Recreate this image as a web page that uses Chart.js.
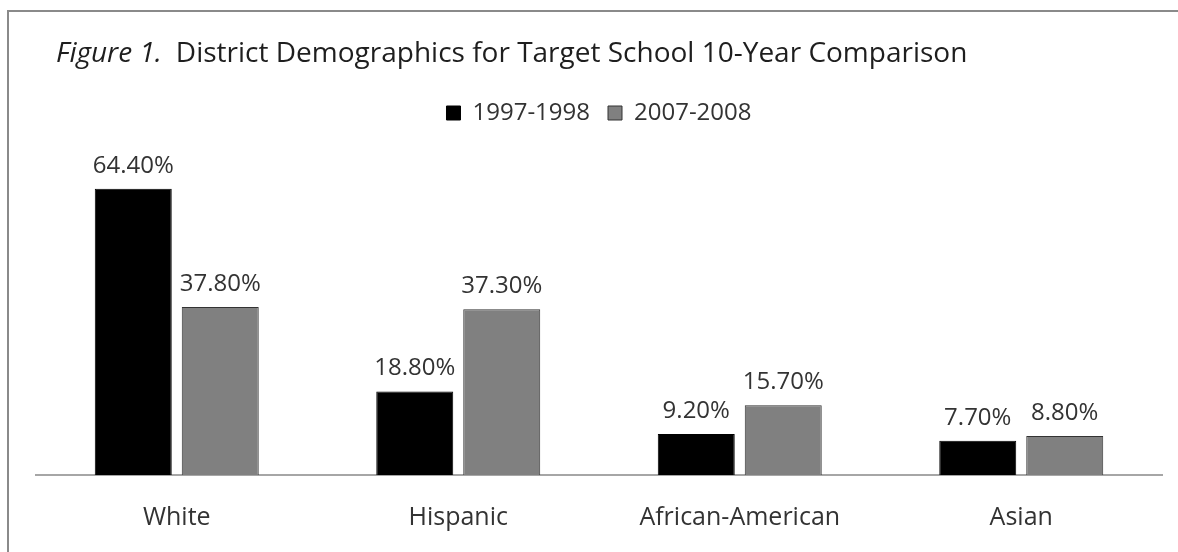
<!DOCTYPE html>
<html>
<head>
<meta charset="utf-8">
<script src="https://cdn.jsdelivr.net/npm/chart.js@4.4.0/dist/chart.umd.min.js"></script>
<style>
  html, body { margin: 0; padding: 0; background: #fff; overflow: hidden; }
  #wrap { position: relative; width: 1178px; height: 552px; }
  #frame { position: absolute; left: 7px; top: 10px; width: 1300px; height: 700px;
           border-left: 2px solid #8a8a8a; border-top: 2px solid #8a8a8a; }
  #titulo { position: absolute; left: 56px; top: 32px; font-family: "Open Sans", sans-serif;
            font-size: 28px; color: #1e1e1e; white-space: nowrap; }
  #titulo i { margin-right: 14px; }
  canvas { position: absolute; left: 0; top: 0; }
</style>
</head>
<body>
<div id="wrap">
  <div id="frame"></div>
  <canvas id="grafico" width="1178" height="552"></canvas>
  <div id="titulo"><i>Figure 1.</i>District Demographics for Target School 10-Year Comparison</div>
</div>
<script>
// Dados do gráfico
const categorias = ["White", "Hispanic", "African-American", "Asian"];
const anos = ["1997-1998", "2007-2008"];
const valores1997 = [64.4, 18.8, 9.2, 7.7];
const valores2007 = [37.8, 37.3, 15.7, 8.8];
const eixoMax = 76.5;

const fonte = '"Open Sans", sans-serif';

// Rótulos de porcentagem acima das barras
const rotulos = {
  id: "rotulos",
  afterDatasetsDraw(chart) {
    const ctx = chart.ctx;
    ctx.save();
    ctx.font = "24px " + fonte;
    ctx.fillStyle = "#333";
    ctx.textAlign = "center";
    ctx.textBaseline = "alphabetic";
    chart.data.datasets.forEach((ds, i) => {
      chart.getDatasetMeta(i).data.forEach((bar, j) => {
        ctx.fillText(ds.data[j].toFixed(2) + "%", bar.x, bar.y - 16);
      });
    });
    ctx.restore();
  }
};

const ctx = document.getElementById("grafico").getContext("2d");
new Chart(ctx, {
  type: "bar",
  data: {
    labels: categorias,
    datasets: [
      { label: anos[0], data: valores1997, backgroundColor: "#000", borderColor: "#000", borderWidth: 1 },
      { label: anos[1], data: valores2007, backgroundColor: "#808080", borderColor: "#333", borderWidth: 1 }
    ]
  },
  options: {
    responsive: false,
    animation: false,
    categoryPercentage: 0.618,
    barPercentage: 0.885,
    layout: { padding: { top: 83, left: 36, right: 16, bottom: 0 } },
    plugins: {
      legend: {
        position: "top",
        labels: {
          font: { family: fonte, size: 24 },
          color: "#333",
          boxWidth: 14,
          boxHeight: 14,
          padding: 18
        }
      },
      tooltip: { enabled: false }
    },
    scales: {
      x: {
        grid: { display: false, drawTicks: false },
        border: { display: true, color: "#a6a6a6", width: 2 },
        ticks: { font: { family: fonte, size: 25 }, color: "#333", padding: 28 },
        // altura fixa do eixo x para a linha base ficar em y=475
        afterFit(scale) { scale.height = 77; }
      },
      y: { display: false, min: 0, max: eixoMax }
    }
  },
  plugins: [rotulos]
});
</script>
</body>
</html>
